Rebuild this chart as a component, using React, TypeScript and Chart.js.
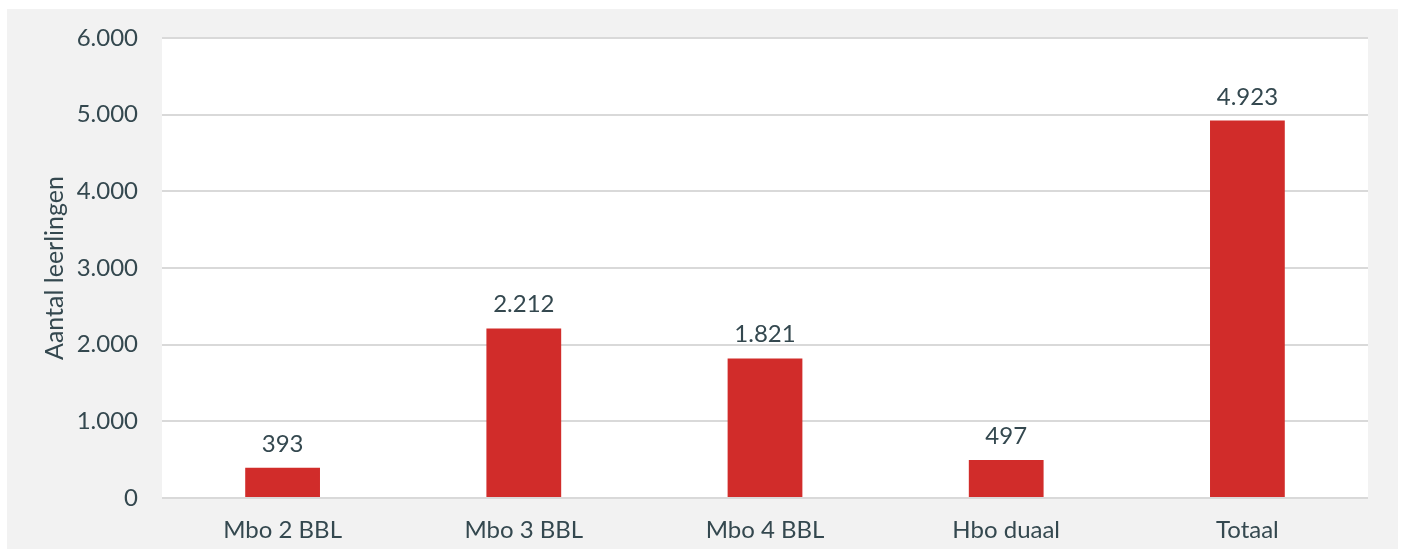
import React, { useEffect, useRef } from "react";
import { Chart, registerables } from "chart.js";

Chart.register(...registerables);

const categories = ["Mbo 2 BBL", "Mbo 3 BBL", "Mbo 4 BBL", "Hbo duaal", "Totaal"];
const values = [393, 2212, 1821, 497, 4923];
const yTicks = [0, 1000, 2000, 3000, 4000, 5000, 6000];
const yTitle = "Aantal leerlingen";

const TEXT = "#34484f";
const FONT = "Lato";

const fmt = (v: number) => String(Math.round(v)).replace(/\B(?=(\d{3})+(?!\d))/g, ".");

const plotBg = {
  id: "plotBg",
  beforeDraw(chart: any) {
    const { ctx, chartArea } = chart;
    ctx.save();
    ctx.fillStyle = "#ffffff";
    ctx.fillRect(chartArea.left, chartArea.top, chartArea.right - chartArea.left, chartArea.bottom - chartArea.top);
    ctx.restore();
  },
};

const dataLabels = {
  id: "dataLabels",
  afterDatasetsDraw(chart: any) {
    const { ctx } = chart;
    const meta = chart.getDatasetMeta(0);
    ctx.save();
    ctx.fillStyle = TEXT;
    ctx.font = `24px ${FONT}`;
    ctx.textAlign = "center";
    ctx.textBaseline = "alphabetic";
    meta.data.forEach((bar: any, i: number) => {
      ctx.fillText(fmt(values[i]), bar.x, bar.y - 16);
    });
    ctx.restore();
  },
};

export default function App() {
  const ref = useRef<HTMLCanvasElement>(null);
  useEffect(() => {
    if (!ref.current) return;
    const chart = new Chart(ref.current, {
      type: "bar",
      data: {
        labels: categories,
        datasets: [
          {
            data: values,
            backgroundColor: "#d12c2a",
            barPercentage: 0.62,
            categoryPercentage: 0.5,
          },
        ],
      },
      options: {
        animation: false,
        responsive: false,
        layout: { padding: { top: 29, right: 30, left: 0, bottom: 0 } },
        plugins: { legend: { display: false }, tooltip: { enabled: false } },
        scales: {
          x: {
            grid: { display: false, drawTicks: false },
            border: { display: false },
            ticks: { color: TEXT, font: { family: FONT, size: 24 }, padding: 18 },
            afterFit: (s: any) => {
              s.height = 51;
              s.paddingLeft = 0;
              s.paddingRight = 0;
            },
          },
          y: {
            min: 0,
            max: 6000,
            afterBuildTicks: (s: any) => {
              s.ticks = yTicks.map((v) => ({ value: v }));
            },
            grid: { color: "#d9d9d9", lineWidth: 2, drawTicks: false },
            border: { display: false },
            ticks: {
              color: TEXT,
              font: { family: FONT, size: 24 },
              padding: 24,
              callback: (v: any) => fmt(Number(v)),
            },
            title: {
              display: true,
              text: yTitle,
              color: TEXT,
              font: { family: FONT, size: 25 },
              padding: { top: 33, bottom: 0 },
            },
            afterFit: (s: any) => {
              s.width = 155;
              s.paddingTop = 0;
              s.paddingBottom = 0;
            },
          },
        },
      },
      plugins: [plotBg, dataLabels],
    });
    return () => chart.destroy();
  }, []);
  return (
    <div
      style={{
        position: "absolute",
        left: 7,
        top: 9,
        width: 1391,
        height: 540,
        background: "#f2f2f2",
      }}
    >
      <canvas ref={ref} width={1391} height={540} />
    </div>
  );
}
